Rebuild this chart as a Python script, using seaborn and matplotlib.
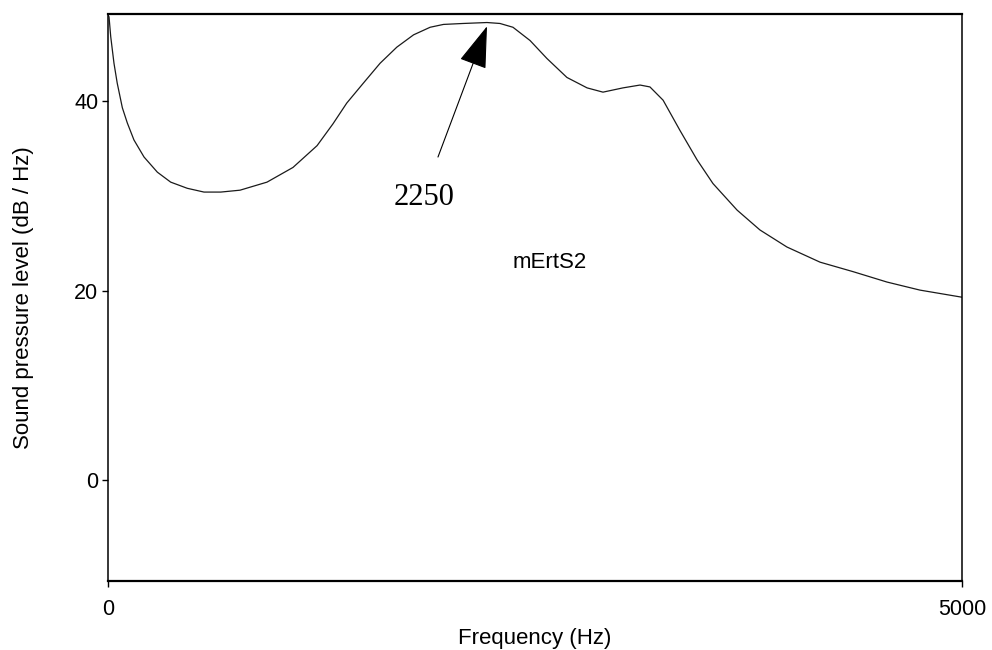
import numpy as np
import pandas as pd
import matplotlib
matplotlib.use("Agg")
import matplotlib.pyplot as plt
import seaborn as sns

# values
freq_hz = [0, 6, 16, 35, 54, 84, 113, 152, 211, 289, 367, 464, 562, 660, 773, 931,
           1083, 1224, 1317, 1398, 1495, 1593, 1691, 1789, 1886, 1964, 2079, 2219,
           2295, 2371, 2471, 2570, 2687, 2805, 2898, 3015, 3115, 3173, 3250, 3349,
           3449, 3542, 3683, 3817, 3975, 4169, 4362, 4561, 4754, 5000]
level_db = [49.1, 48.9, 46.8, 44.0, 41.9, 39.3, 37.7, 35.9, 34.1, 32.5, 31.45, 30.8,
            30.4, 30.4, 30.6, 31.45, 33.0, 35.3, 37.6, 39.8, 41.9, 44.0, 45.7, 47.0,
            47.8, 48.1, 48.2, 48.3, 48.2, 47.8, 46.4, 44.5, 42.5, 41.4, 40.95, 41.4,
            41.7, 41.5, 40.1, 36.9, 33.8, 31.3, 28.5, 26.4, 24.6, 23.0, 22.0, 20.9,
            20.05, 19.3]
x_ticks = [0, 5000]
y_ticks = [0, 20, 40]
peak_label = "2250"
peak_tip = (2219, 47.9)
peak_tail = (1932, 34.1)
peak_text_pos = (1850, 29.8)
speaker_label = "mErtS2"
speaker_pos = (2588, 23.0)

df = pd.DataFrame({"freq": freq_hz, "level": level_db})

sns.set_style("white")
plt.rcParams["font.family"] = ["Liberation Sans", "DejaVu Sans"]
plt.rcParams["text.color"] = "black"
plt.rcParams["axes.labelcolor"] = "black"
plt.rcParams["xtick.color"] = "black"
plt.rcParams["ytick.color"] = "black"

fig = plt.figure(figsize=(9.92, 6.5), dpi=100)
ax = fig.add_axes([108 / 992, 1 - 581 / 650, (962 - 108) / 992, (581 - 14) / 650])

sns.lineplot(data=df, x="freq", y="level", ax=ax, color="#1a1a1a", linewidth=0.9)

ax.set_xlim(0, 5000)
ax.set_ylim(-10.66, 49.2)
ax.set_xticks(x_ticks)
ax.set_yticks(y_ticks)
ax.tick_params(axis="both", which="major", direction="out", length=4, width=1,
               color="black", labelsize=15.5, left=True, bottom=True)
ax.tick_params(axis="x", pad=9)
ax.tick_params(axis="y", pad=3)

ax.set_xlabel("Frequency (Hz)", fontsize=16, labelpad=6)
ax.set_ylabel("Sound pressure level (dB / Hz)", fontsize=16, labelpad=29)

for side in ["top", "bottom"]:
    ax.spines[side].set_linewidth(1.6)
for side in ["left", "right"]:
    ax.spines[side].set_linewidth(1.1)
for sp in ax.spines.values():
    sp.set_color("black")
    sp.set_visible(True)

# arrow to the F2 peak
ax.annotate("", xy=peak_tip, xytext=peak_tail,
            arrowprops=dict(arrowstyle="-|>,head_length=2.7,head_width=0.9",
                            mutation_scale=10, lw=0.8, color="black",
                            shrinkA=0, shrinkB=0))
ax.text(peak_text_pos[0], peak_text_pos[1], peak_label, fontsize=22,
        family=["Liberation Serif", "DejaVu Serif"], ha="center", va="center")
ax.text(speaker_pos[0], speaker_pos[1], speaker_label, fontsize=16,
        ha="center", va="center")

fig.savefig("out.png", dpi=100)
